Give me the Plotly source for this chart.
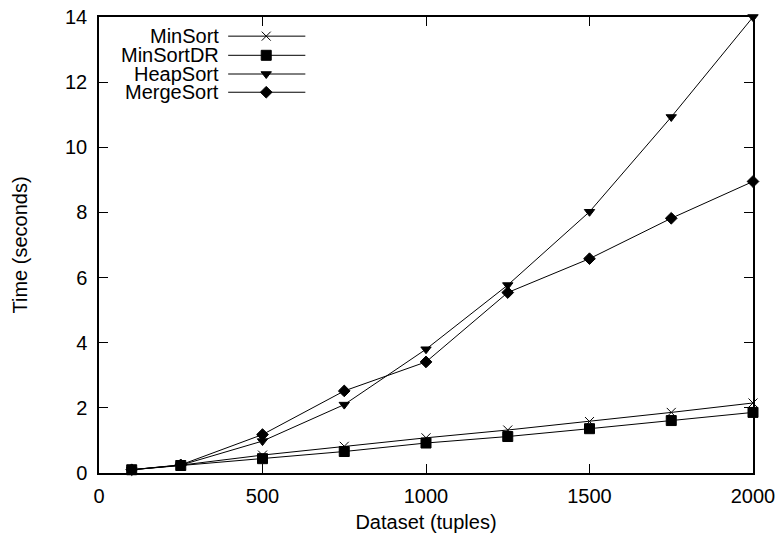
import plotly.graph_objects as go

# Dataset sizes (tuples) and measured run times (seconds)
dataset = [100, 250, 500, 750, 1000, 1250, 1500, 1750, 2000]
minsort = [0.10, 0.24, 0.55, 0.82, 1.08, 1.32, 1.58, 1.86, 2.15]
minsort_dr = [0.10, 0.23, 0.44, 0.66, 0.92, 1.12, 1.36, 1.61, 1.86]
heapsort = [0.10, 0.24, 0.98, 2.10, 3.80, 5.77, 8.02, 10.93, 14.0]
mergesort = [0.10, 0.25, 1.18, 2.52, 3.41, 5.54, 6.58, 7.82, 8.95]

series_names = ["MinSort", "MinSortDR", "HeapSort", "MergeSort"]
series_values = [minsort, minsort_dr, heapsort, mergesort]
symbols = ["x-thin-open", "square", "triangle-down", "diamond"]
sizes = [9, 10, 9, 9]

x_ticks = [0, 500, 1000, 1500, 2000]
y_ticks = [0, 2, 4, 6, 8, 10, 12, 14]

FONT = "Liberation Sans, Arial, Helvetica, sans-serif"
FS = 20

fig = go.Figure()
for name, vals, sym, sz in zip(series_names, series_values, symbols, sizes):
    fig.add_trace(go.Scatter(
        x=dataset, y=vals, name=name, mode="lines+markers",
        line=dict(color="black", width=1),
        marker=dict(symbol=sym, size=sz, color="black",
                    line=dict(color="black", width=1)),
        showlegend=False, cliponaxis=False,
    ))

# Key in the upper-left corner: label on the left, line sample on the right
key_rows = [0.958, 0.916, 0.875, 0.835]
key_text_x = 0.186
key_line = (0.1975, 0.3155)
key_mid = 0.2557
for name, sym, sz, ky in zip(series_names, symbols, sizes, key_rows):
    fig.add_annotation(x=key_text_x, y=ky, xref="paper", yref="paper",
                       text=name, showarrow=False, xanchor="right",
                       yanchor="middle",
                       font=dict(family=FONT, size=FS, color="black"))
    fig.add_shape(type="line", xref="paper", yref="paper",
                  x0=key_line[0], x1=key_line[1], y0=ky, y1=ky,
                  line=dict(color="black", width=1))
    fig.add_trace(go.Scatter(
        x=[key_mid], y=[ky], xaxis="x2", yaxis="y2", mode="markers",
        marker=dict(symbol=sym, size=sz, color="black",
                    line=dict(color="black", width=1)),
        showlegend=False, hoverinfo="skip",
    ))

axis_common = dict(
    showline=True, linecolor="black", linewidth=1.5, mirror="ticks",
    ticks="inside", ticklen=9, tickwidth=1, tickcolor="black",
    showgrid=False, zeroline=False, automargin=False,
    tickfont=dict(family=FONT, size=FS, color="black"),
)

fig.update_layout(
    width=781, height=542,
    margin=dict(l=99, r=28, t=17, b=69),
    paper_bgcolor="white", plot_bgcolor="white",
    font=dict(family=FONT, size=FS, color="black"),
    xaxis=dict(range=[0, 2000], tickvals=x_ticks, ticklabelstandoff=4,
               title=dict(text="Dataset (tuples)", font=dict(family=FONT, size=FS), standoff=9),
               **axis_common),
    yaxis=dict(range=[0, 14], tickvals=y_ticks, ticklabelstandoff=6,
               title=dict(text="Time (seconds)", font=dict(family=FONT, size=FS), standoff=32),
               **axis_common),
    xaxis2=dict(range=[0, 1], overlaying="x", visible=False),
    yaxis2=dict(range=[0, 1], overlaying="y", visible=False),
)

fig.write_html("out.html")
